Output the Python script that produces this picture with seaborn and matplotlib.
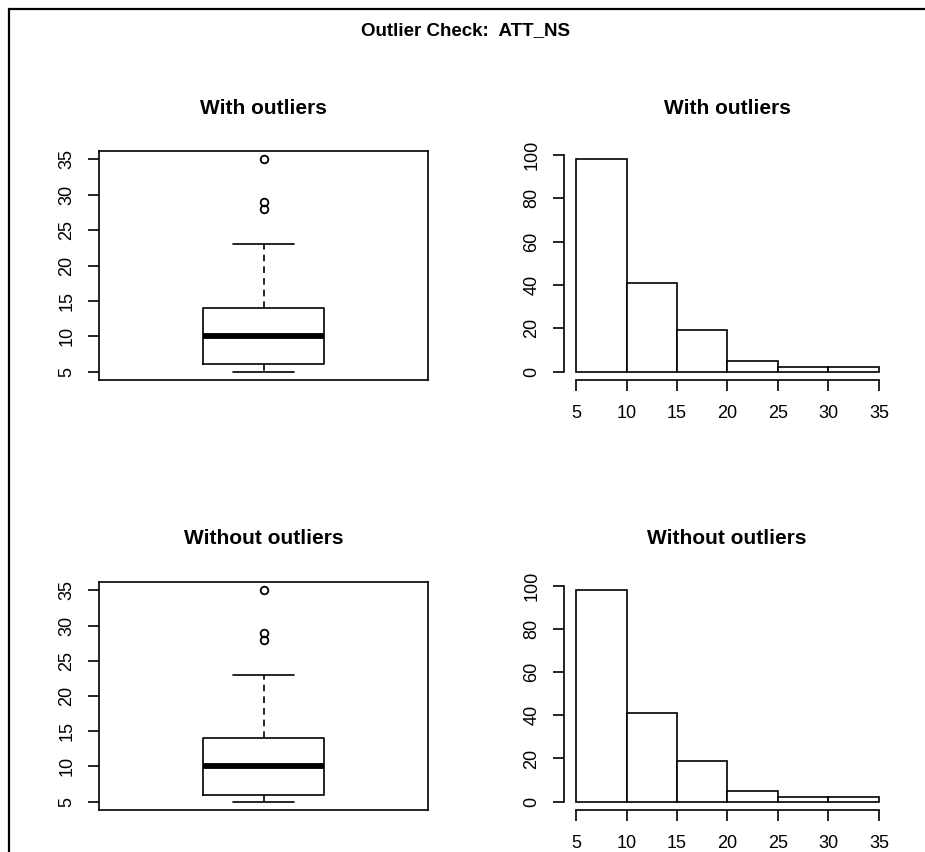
import numpy as np
import pandas as pd
import matplotlib
matplotlib.use("Agg")
import matplotlib.pyplot as plt
from matplotlib.lines import Line2D
import seaborn as sns

# ---------------- data ----------------
main_title = "Outlier Check:  ATT_NS"
row_titles = ["With outliers", "Without outliers"]

# sample reproducing the box statistics seen in the plot:
# min whisker 5, Q1 6, median 10, Q3 14, upper whisker 23, outliers 28, 29, 35
box_sample = [5, 5, 5, 6, 6, 6, 7, 8, 9, 10, 10, 11, 12, 13, 14, 14, 17, 23, 28, 29, 35]

# histogram (bins of width 5 from 5 to 35)
bin_edges = [5, 10, 15, 20, 25, 30, 35]
bin_counts_with = [98, 41, 19, 5, 2, 2]
bin_counts_without = [98, 41, 19, 5, 2, 2]

box_yticks = [5, 10, 15, 20, 25, 30, 35]
hist_yticks = [0, 20, 40, 60, 80, 100]
hist_xticks = [5, 10, 15, 20, 25, 30, 35]

# ---------------- style ----------------
sns.set_theme(style="white")
plt.rcParams["font.family"] = ["Liberation Sans", "DejaVu Sans"]
plt.rcParams["axes.edgecolor"] = "black"
plt.rcParams["xtick.color"] = "black"
plt.rcParams["ytick.color"] = "black"
plt.rcParams["text.color"] = "black"

W, H = 925, 852
fig = plt.figure(figsize=(W / 100, H / 100), dpi=100)
fig.patch.set_facecolor("white")

LW = 1.2
TICK_FS = 13
SUB_FS = 15


def px_rect(x0, y0, x1, y1):
    return [x0 / W, 1 - y1 / H, (x1 - x0) / W, (y1 - y0) / H]


rows = [(151, 380), (582, 810)]
hist_counts = [bin_counts_with, bin_counts_without]

for r, (y0, y1) in enumerate(rows):
    # ---- box plot ----
    axb = fig.add_axes(px_rect(99, y0, 428, y1))
    df_box = pd.DataFrame({"value": box_sample})
    sns.boxplot(
        data=df_box, y="value", ax=axb, width=0.37, fill=False,
        color="black", linecolor="black", linewidth=LW, whis=1.5,
        whiskerprops={"linestyle": (0, (4, 3))},
        medianprops={"linewidth": 4.2, "solid_capstyle": "butt"},
        flierprops={"marker": "o", "markersize": 5.5, "markerfacecolor": "none",
                    "markeredgecolor": "black", "markeredgewidth": 1.3},
    )
    axb.set_xlim(-0.5, 0.5)
    axb.set_ylim(3.8, 36.2)
    axb.set_xticks([])
    axb.set_yticks(box_yticks)
    axb.set_yticklabels([str(v) for v in box_yticks], rotation=90, va="center",
                        fontsize=TICK_FS)
    axb.set_xlabel("")
    axb.set_ylabel("")
    for s in axb.spines.values():
        s.set_visible(True)
        s.set_linewidth(LW)
        s.set_color("black")
    axb.tick_params(axis="y", direction="out", length=8, width=LW, pad=9, left=True)
    fig.text(263.5 / W, 1 - (y0 - 43) / H, row_titles[r], ha="center", va="center",
             fontsize=SUB_FS, fontweight="bold")

    # ---- histogram ----
    axh = fig.add_axes(px_rect(564, y0, 891, y1))
    sns.histplot(x=bin_edges[:-1], weights=hist_counts[r], bins=bin_edges, ax=axh,
                 stat="count", color="white", edgecolor="black", linewidth=LW,
                 alpha=1)
    axh.set_xlim(3.8, 36.2)
    axh.set_ylim(-3.92, 101.92)
    axh.set_xticks(hist_xticks)
    axh.set_xticklabels([str(v) for v in hist_xticks], fontsize=TICK_FS)
    axh.set_yticks(hist_yticks)
    axh.set_yticklabels([str(v) for v in hist_yticks], rotation=90, va="center",
                        fontsize=TICK_FS)
    axh.set_xlabel("")
    axh.set_ylabel("")
    axh.spines["top"].set_visible(False)
    axh.spines["right"].set_visible(False)
    axh.spines["left"].set_bounds(0, 100)
    axh.spines["bottom"].set_bounds(5, 35)
    for s in ("left", "bottom"):
        axh.spines[s].set_linewidth(LW)
        axh.spines[s].set_color("black")
    axh.tick_params(axis="y", direction="out", length=8, width=LW, pad=9, left=True)
    axh.tick_params(axis="x", direction="out", length=8, width=LW, pad=10, bottom=True)
    fig.text(727 / W, 1 - (y0 - 43) / H, row_titles[r], ha="center", va="center",
             fontsize=SUB_FS, fontweight="bold")

# main title
fig.text(466 / W, 1 - 31 / H, main_title, ha="center", va="center",
         fontsize=13.5, fontweight="bold")

# frame lines (top and left) of the original device
fig.add_artist(Line2D([8.5 / W, 1.0], [1 - 8.5 / H, 1 - 8.5 / H], transform=fig.transFigure,
                      color="black", linewidth=1.6, solid_capstyle="butt"))
fig.add_artist(Line2D([8.5 / W, 8.5 / W], [0.0, 1 - 8.5 / H], transform=fig.transFigure,
                      color="black", linewidth=1.6, solid_capstyle="projecting"))

fig.savefig("out.png", dpi=100, facecolor="white")
